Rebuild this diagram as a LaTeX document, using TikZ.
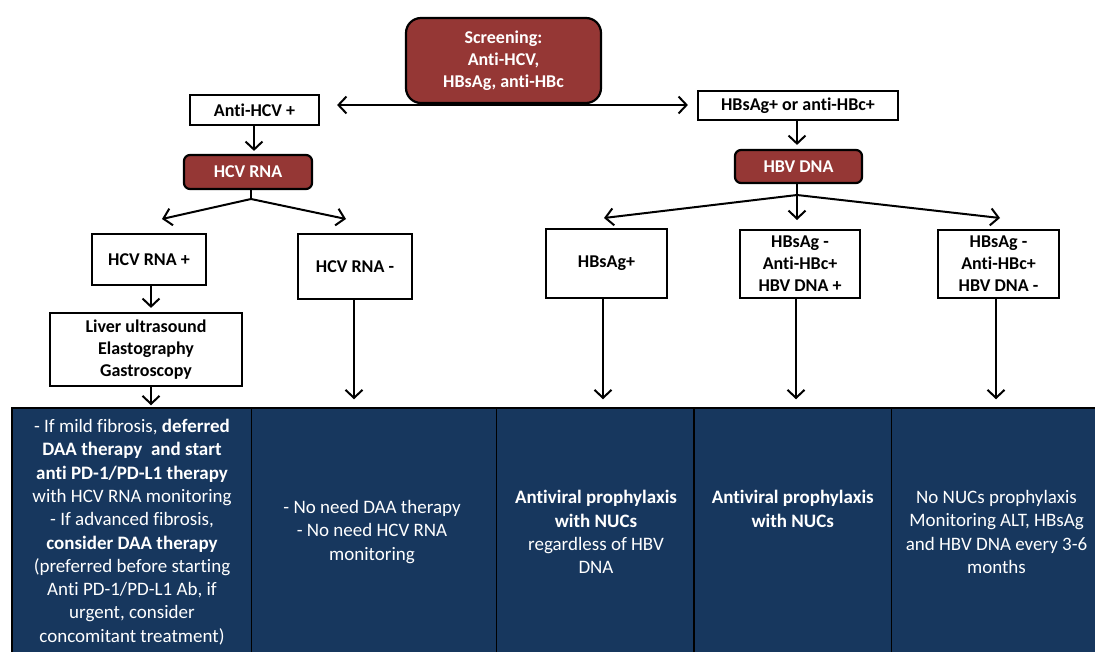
\documentclass[tikz,border=0pt]{standalone}
\usepackage{fontspec}
\setmainfont{Carlito}[Ligatures={NoCommon}]
\usetikzlibrary{arrows.meta,calc}
\definecolor{dred}{HTML}{953735}
\definecolor{navy}{HTML}{17375E}
\begin{document}
\begin{tikzpicture}[x=1pt,y=-1pt,
  box/.style={draw=black,line width=2.2pt,fill=white,font=\bfseries\fontsize{18}{22}\selectfont,align=center,inner sep=0pt},
  redbox/.style={box,fill=dred,text=white,rounded corners=6pt},
  arr/.style={line width=2pt,-{Straight Barb[length=8pt,width=17pt]}},
  dbl/.style={line width=2pt,{Straight Barb[length=8pt,width=17pt]}-{Straight Barb[length=8pt,width=17pt]}},
  plain/.style={line width=2pt},
  cell/.style={draw=black,line width=1.5pt,fill=navy,inner sep=0pt},
  ctext/.style={text=white,align=center,font=\fontsize{19}{23.3}\selectfont,inner sep=0pt}]
\useasboundingbox (0,0) rectangle (1095,651);
\fill[white] (0,0) rectangle (1095,651);
\clip (0,0) rectangle (1095,651);

% table cells
\node[cell,minimum width=239.5pt,minimum height=248pt] (c1) at (131.75,532) {};
\node[cell,minimum width=245pt,minimum height=248pt] (c2) at (374,532) {};
\node[cell,minimum width=197.5pt,minimum height=248pt] (c3) at (595.25,532) {};
\node[cell,minimum width=197.5pt,minimum height=248pt] (c4) at (792.75,532) {};
\node[cell,minimum width=210pt,minimum height=248pt] (c5) at (996.5,532) {};

\node[ctext] (t1) at (132,532) {- If mild fibrosis, \textbf{deferred}\\ \textbf{DAA therapy\ \ and start}\\ \textbf{anti PD-1/PD-L1 therapy}\\ with HCV RNA monitoring\\ - If advanced fibrosis,\\ \textbf{consider DAA therapy}\\ (preferred before starting\\ Anti PD-1/PD-L1 Ab, if\\ urgent, consider\\ concomitant treatment)};
\node[ctext] (t2) at (372,532) {- No need DAA therapy\\ - No need HCV RNA\\ monitoring};
\node[ctext] (t3) at (596,532) {\textbf{Antiviral prophylaxis}\\ \textbf{with NUCs}\\ regardless of HBV\\ DNA};
\node[ctext,anchor=north] (t4) at (c4.center |- t3.north) {\textbf{Antiviral prophylaxis}\\ \textbf{with NUCs}};
\node[ctext] (t5) at (996.5,532) {No NUCs prophylaxis\\ Monitoring ALT, HBsAg\\ and HBV DNA every 3-6\\ months};

% screening double arrow (behind box)
\node[box,minimum width=129pt,minimum height=30pt] (antihcv) at (254.5,110) {Anti-HCV +};
\node[box,minimum width=200pt,minimum height=29pt] (hbs) at (798,105.5) {HBsAg+ or anti-HBc+};
\coordinate (scrL) at ([xshift=17pt]antihcv.east |- 0,105);
\coordinate (scrR) at ([xshift=-9pt]hbs.west |- 0,105);
\draw[dbl] (scrL) -- (scrR);
\node[redbox,rounded corners=15pt,minimum width=195pt,minimum height=85pt] (scr) at (503.5,60.5) {Screening:\\ Anti-HCV,\\ HBsAg, anti-HBc};

% HCV side
\node[redbox,minimum width=128pt,minimum height=34pt] (hcvrna) at (248,172) {HCV RNA};
\node[box,minimum width=114pt,minimum height=51pt] (hcvp) at (149,259.5) {HCV RNA +};
\node[box,minimum width=114pt,minimum height=65pt] (hcvn) at (355,266.5) {HCV RNA -};
\node[box,minimum width=192pt,minimum height=73pt] (liver) at (146,349.5) {Liver ultrasound\\ Elastography\\ Gastroscopy};

\draw[arr] (antihcv.south -| 254,0) -- ([yshift=3pt]hcvrna.north -| 254,0);
\coordinate (bL) at (251,199);
\coordinate (bL1) at (162,219);
\coordinate (bL2) at (346,219);
\draw[plain] (hcvrna.south -| bL) -- (bL);
\draw[arr] (bL) -- (bL1);
\draw[arr] (bL) -- (bL2);
\draw[arr] (hcvp.south -| 151,0) -- ([yshift=4pt]liver.north -| 151,0);
\draw[arr] (liver.south -| 151,0) -- ([yshift=2pt]c1.north -| 151,0);
\draw[arr] (hcvn.south -| 354,0) -- ([yshift=8pt]c2.north -| 354,0);

% HBV side
\node[redbox,minimum width=127pt,minimum height=33pt] (hbvdna) at (798.5,166.5) {HBV DNA};
\node[box,minimum width=121pt,minimum height=69pt] (hbsagp) at (606.5,263.5) {HBsAg+};
\node[box,minimum width=120pt,minimum height=68pt] (hbvp) at (800,264) {HBsAg -\\ Anti-HBc+\\ HBV DNA +};
\node[box,minimum width=121pt,minimum height=68pt] (hbvn) at (998.5,264) {HBsAg -\\ Anti-HBc+\\ HBV DNA -};

\draw[arr] (hbs.south -| 797,0) -- ([yshift=4pt]hbvdna.north -| 797,0);
\coordinate (bR) at (797,195);
\coordinate (bR1) at (604,218);
\coordinate (bR2) at (797,220);
\coordinate (bR3) at (1000,218);
\draw[plain] (hbvdna.south -| bR) -- (bR);
\draw[arr] (bR) -- (bR1);
\draw[arr] (bR) -- (bR2);
\draw[arr] (bR) -- (bR3);
\draw[arr] (hbsagp.south -| 603,0) -- ([yshift=8pt]c3.north -| 603,0);
\draw[arr] (hbvp.south -| 796,0) -- ([yshift=8pt]c4.north -| 796,0);
\draw[arr] (hbvn.south -| 996,0) -- ([yshift=8pt]c5.north -| 996,0);
\end{tikzpicture}
\end{document}
